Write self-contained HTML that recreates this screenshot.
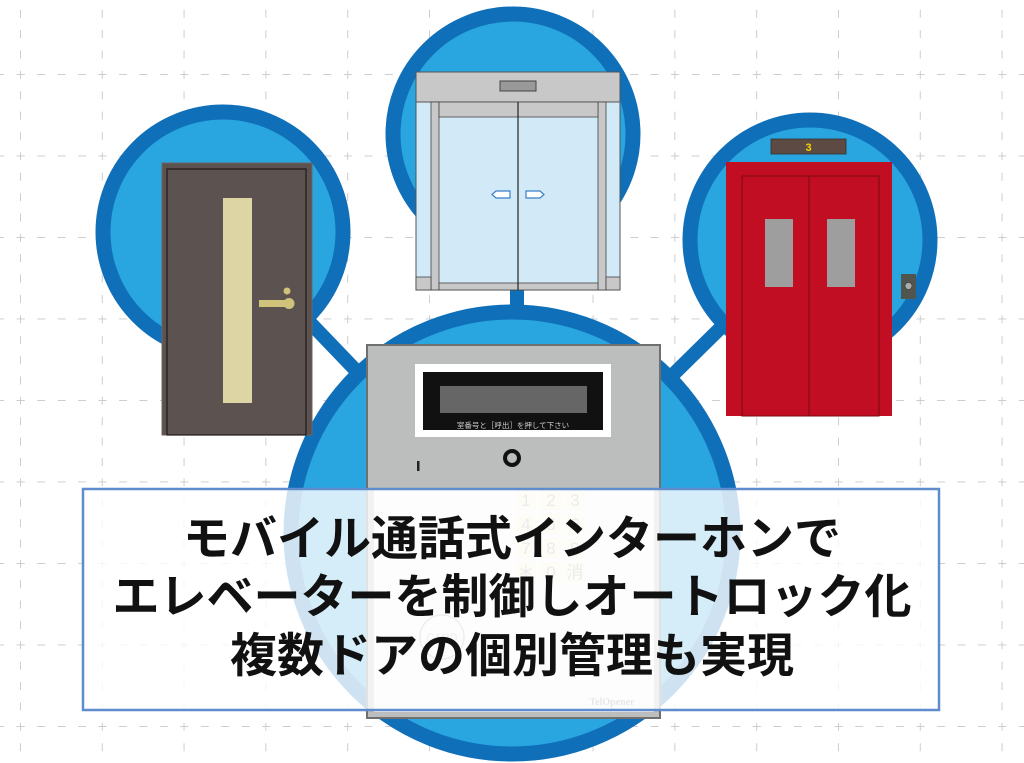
<!DOCTYPE html>
<html><head><meta charset="utf-8"><style>
html,body{margin:0;padding:0;background:#fff;}
body{width:1024px;height:763px;overflow:hidden;position:relative;}
svg{position:absolute;left:0;top:0;}
</style></head><body>
<svg width="1024" height="763" viewBox="0 0 1024 763" xmlns="http://www.w3.org/2000/svg">
<defs>
<pattern id="g" x="20" y="74" width="81.8" height="81.5" patternUnits="userSpaceOnUse">
<line x1="0" y1="-40" x2="0" y2="82" stroke="#c8c8c8" stroke-width="1.8" stroke-dasharray="8 12.4" stroke-dashoffset="4"/>
<line x1="-40" y1="0" x2="82" y2="0" stroke="#c8c8c8" stroke-width="1.8" stroke-dasharray="8 12.4" stroke-dashoffset="4"/>
</pattern>
</defs>
<rect x="0" y="0" width="1024" height="763" fill="url(#g)"/>
<!-- connectors -->
<line x1="223" y1="232" x2="512" y2="533" stroke="#0f6fb8" stroke-width="14"/>
<line x1="810" y1="240" x2="512" y2="533" stroke="#0f6fb8" stroke-width="14"/>
<line x1="517" y1="134" x2="517" y2="533" stroke="#0f6fb8" stroke-width="14"/>
<!-- circles -->
<circle cx="223" cy="232" r="120" fill="#29a5df" stroke="#0f6fb8" stroke-width="15"/>
<circle cx="513" cy="134" r="120" fill="#29a5df" stroke="#0f6fb8" stroke-width="15"/>
<circle cx="810" cy="240" r="120" fill="#29a5df" stroke="#0f6fb8" stroke-width="15"/>
<circle cx="512" cy="533" r="221" fill="#29a5df" stroke="#0f6fb8" stroke-width="15"/>
<!-- left door -->
<rect x="162" y="163" width="150" height="272" fill="#5c5250" stroke="#6d6564" stroke-width="1"/>
<rect x="167" y="169" width="139" height="266" fill="none" stroke="#1f1a19" stroke-width="1.2"/>
<rect x="223" y="198" width="29" height="205" fill="#ddd6a4"/>
<rect x="259" y="300" width="30" height="7" fill="#cfc27a"/>
<circle cx="289" cy="303.5" r="5.5" fill="#cfc27a"/>
<circle cx="287" cy="291" r="3.5" fill="#cfc27a"/>
<!-- top automatic door -->
<rect x="416" y="72" width="204" height="218" fill="#d2eaf8" stroke="#555" stroke-width="1"/>
<rect x="416" y="72" width="204" height="30" fill="#c8c8c8" stroke="#555" stroke-width="1"/>
<rect x="500" y="81" width="36" height="10" fill="#999" stroke="#444" stroke-width="1"/>
<rect x="431" y="102" width="8" height="188" fill="#c8c8c8" stroke="#444" stroke-width="0.8"/>
<rect x="598" y="102" width="8" height="188" fill="#c8c8c8" stroke="#444" stroke-width="0.8"/>
<rect x="439" y="102" width="159" height="15" fill="#c8c8c8" stroke="#444" stroke-width="0.8"/>
<rect x="439" y="283" width="159" height="7" fill="#c8c8c8" stroke="#444" stroke-width="0.8"/>
<rect x="416" y="277" width="15" height="13" fill="#c8c8c8" stroke="#444" stroke-width="0.8"/>
<rect x="606" y="277" width="14" height="13" fill="#c8c8c8" stroke="#444" stroke-width="0.8"/>
<line x1="518" y1="102" x2="518" y2="290" stroke="#222" stroke-width="1.2"/>
<path d="M510 191 L496 191 L492 194.5 L496 198 L510 198 Z" fill="#fff" stroke="#3a7fc6" stroke-width="1.2"/>
<path d="M526 191 L540 191 L544 194.5 L540 198 L526 198 Z" fill="#fff" stroke="#3a7fc6" stroke-width="1.2"/>
<!-- elevator -->
<rect x="771" y="139" width="75" height="15" fill="#5c4a43" stroke="#333" stroke-width="0.8"/>
<text x="808.5" y="151" text-anchor="middle" font-family="Liberation Sans, sans-serif" font-size="11" font-weight="bold" fill="#f3d500">3</text>
<rect x="726" y="162" width="166" height="254" fill="#c20e22"/>
<rect x="742" y="176" width="137" height="240" fill="#c20e22" stroke="#7a0b16" stroke-width="1"/>
<line x1="809" y1="176" x2="809" y2="416" stroke="#7a0b16" stroke-width="1"/>
<rect x="765" y="219" width="28" height="68" fill="#9d9e9d"/>
<rect x="827" y="219" width="28" height="68" fill="#9d9e9d"/>
<rect x="901" y="274" width="15" height="25" fill="#515550"/>
<circle cx="908.5" cy="286" r="3.5" fill="#aaa" stroke="#333" stroke-width="0.6"/>
<!-- intercom -->
<rect x="367" y="345" width="293" height="373" fill="#bcbebd" stroke="#6f6f6f" stroke-width="2"/>
<rect x="374" y="490" width="280" height="222" fill="#f4f4f4"/>
<rect x="415" y="364" width="196" height="73" fill="#fff"/>
<rect x="423" y="372" width="180" height="58" fill="#111"/>
<rect x="440" y="386" width="147" height="27" fill="#666"/>
<text x="513" y="428" text-anchor="middle" font-family="Liberation Sans, 'Noto Sans CJK JP', sans-serif" font-size="7.5" fill="#ccc">室番号と［呼出］を押して下さい</text>
<circle cx="512" cy="458" r="7" fill="#bcbebd" stroke="#111" stroke-width="4"/>
<rect x="417" y="461" width="2.5" height="10" fill="#222"/>
<g fill="#f3efd6">
<rect x="516" y="490" width="20" height="20"/><rect x="541" y="490" width="20" height="20"/><rect x="565" y="490" width="20" height="20"/>
<rect x="516" y="514" width="20" height="20"/><rect x="541" y="514" width="20" height="20"/><rect x="565" y="514" width="20" height="20"/>
<rect x="516" y="538" width="20" height="20"/><rect x="541" y="538" width="20" height="20"/><rect x="565" y="538" width="20" height="20"/>
<rect x="516" y="562" width="20" height="20"/><rect x="541" y="562" width="20" height="20"/><rect x="565" y="562" width="20" height="20"/>
</g>
<g font-family="Liberation Sans, 'Noto Sans CJK JP', sans-serif" font-size="17" fill="#999" text-anchor="middle">
<text x="526" y="506">1</text><text x="551" y="506">2</text><text x="575" y="506">3</text>
<text x="526" y="530">4</text><text x="551" y="530">5</text><text x="575" y="530">6</text>
<text x="526" y="554">7</text><text x="551" y="554">8</text><text x="575" y="554">9</text>
<text x="526" y="578">＊</text><text x="551" y="578">0</text><text x="575" y="578">消</text>
</g>
<circle cx="442" cy="637" r="22" fill="none" stroke="#aaa" stroke-width="1.5"/>
<text x="442" y="641" text-anchor="middle" font-family="Liberation Sans, sans-serif" font-size="11" fill="#aaa">CARD</text>
<text x="612" y="705" text-anchor="middle" font-family="Liberation Serif, serif" font-size="10" font-weight="bold" fill="#888">TelOpener</text>
<!-- overlay box -->
<rect x="83" y="489" width="856" height="221" fill="rgba(255,255,255,0.8)" stroke="#5f8ccc" stroke-width="2.5"/>
<g font-family="Liberation Sans, 'Noto Sans CJK JP', sans-serif" font-size="47" font-weight="bold" fill="#111" text-anchor="middle">
<text x="512" y="555">モバイル通話式インターホンで</text>
<text x="512" y="613">エレベーターを制御しオートロック化</text>
<text x="512" y="672">複数ドアの個別管理も実現</text>
</g>
</svg>
</body></html>
